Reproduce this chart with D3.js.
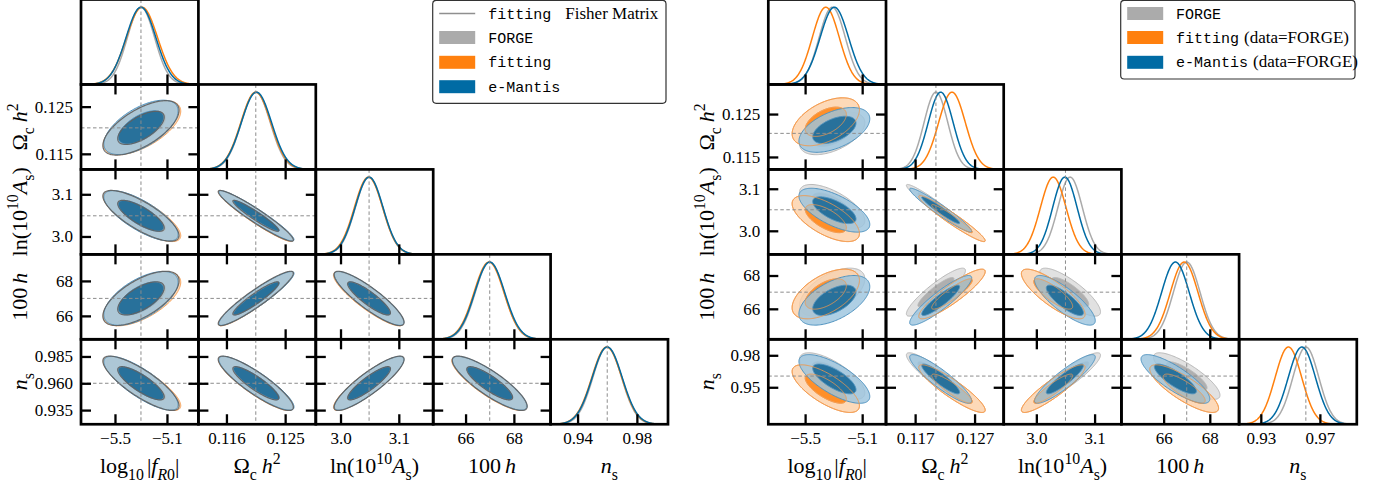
<!DOCTYPE html>
<html><head><meta charset="utf-8">
<script src="https://cdn.jsdelivr.net/npm/d3@7"></script>
<style>body{margin:0;background:#fff}svg{display:block}</style>
</head><body>
<svg id="c" width="1377" height="486"></svg>
<script>
// ================= DATA =================
// parameter order: log10|fR0|, Omega_c h^2, ln(10^10 As), 100h, n_s
// correlation pairs order: (1,0),(2,0),(2,1),(3,0),(3,1),(3,2),(4,0),(4,1),(4,2),(4,3)

// ---- left figure ----
const leftTruth = [-5.3, 0.1205, 3.049, 67.0, 0.960];
const leftDomainLo = [-5.7615, 0.1117, 2.9576, 64.66, 0.9218];
const leftDomainHi = [-4.858, 0.1297, 3.159, 69.52, 1.0010];
const leftXTickValues = [[-5.5, -5.1], [0.116, 0.125], [3.0, 3.1], [66, 68], [0.94, 0.98]];
const leftXTickLabels = [["−5.5", "−5.1"], ["0.116", "0.125"], ["3.0", "3.1"], ["66", "68"], ["0.94", "0.98"]];
const leftYTickValues = [[], [0.115, 0.125], [3.0, 3.1], [66, 68], [0.935, 0.960, 0.985]];
const leftYTickLabels = [[], ["0.115", "0.125"], ["3.0", "3.1"], ["66", "68"], ["0.935", "0.960", "0.985"]];

const leftForgeMean = [-5.30, 0.1205, 3.049, 67.0, 0.960];
const leftForgeSigma = [0.105, 0.00222, 0.0235, 0.60, 0.0097];
const leftForgeRho = [0.60, -0.75, -0.95, 0.60, 0.93, -0.88, -0.80, -0.88, 0.88, -0.85];

const leftFittingMean = [-5.292, 0.1205, 3.048, 66.97, 0.9597];
const leftFittingSigma = [0.120, 0.00230, 0.0242, 0.62, 0.0101];
const leftFittingRho = [0.62, -0.77, -0.95, 0.62, 0.93, -0.88, -0.82, -0.88, 0.88, -0.85];

const leftMantisMean = [-5.30, 0.1206, 3.049, 67.0, 0.960];
const leftMantisSigma = [0.115, 0.00232, 0.0240, 0.62, 0.0101];
const leftMantisRho = [0.60, -0.75, -0.95, 0.60, 0.93, -0.88, -0.80, -0.88, 0.88, -0.85];

const leftFisherMean = [-5.30, 0.1205, 3.049, 67.0, 0.960];
const leftFisherSigma = [0.118, 0.00232, 0.0242, 0.625, 0.0102];
const leftFisherRho = [0.65, -0.78, -0.95, 0.65, 0.93, -0.88, -0.82, -0.88, 0.88, -0.85];

// ---- right figure ----
const rightTruth = [null, 0.1205, 3.050, 67.0, 0.9605];
const rightDomainLo = [-5.758, 0.1121, 2.944, 64.17, 0.9153];
const rightDomainHi = [-4.933, 0.1319, 3.146, 69.27, 0.9950];
const rightXTickValues = [[-5.5, -5.1], [0.117, 0.127], [3.0, 3.1], [66, 68], [0.93, 0.97]];
const rightXTickLabels = [["−5.5", "−5.1"], ["0.117", "0.127"], ["3.0", "3.1"], ["66", "68"], ["0.93", "0.97"]];
const rightYTickValues = [[], [0.115, 0.125], [3.0, 3.1], [66, 68], [0.95, 0.98]];
const rightYTickLabels = [[], ["0.115", "0.125"], ["3.0", "3.1"], ["66", "68"], ["0.95", "0.98"]];

const rightForgeMean = [-5.31, 0.1205, 3.058, 67.0, 0.9605];
const rightForgeSigma = [0.092, 0.0020, 0.021, 0.58, 0.0088];
const rightForgeRho = [0.50, -0.65, -0.96, 0.55, 0.90, -0.82, -0.72, -0.90, 0.90, -0.82];

const rightFittingMean = [-5.355, 0.1232, 3.029, 66.89, 0.9487];
const rightFittingSigma = [0.095, 0.00225, 0.022, 0.60, 0.0090];
const rightFittingRho = [0.50, -0.65, -0.96, 0.55, 0.90, -0.82, -0.72, -0.90, 0.90, -0.82];

const rightMantisMean = [-5.295, 0.1213, 3.049, 66.51, 0.9578];
const rightMantisSigma = [0.100, 0.0021, 0.021, 0.60, 0.0092];
const rightMantisRho = [0.50, -0.65, -0.96, 0.55, 0.90, -0.82, -0.72, -0.90, 0.90, -0.82];

// axis label texts
const axisLabelSegments = [
  [{t:"log"},{t:"10",sub:1},{t:"|",dx:3},{t:"f",it:1},{t:"R",sub:1,it:1},{t:"0",sub:1},{t:"|"}],
  [{t:"Ω"},{t:"c",sub:1},{t:"h",it:1,dx:5},{t:"2",sup:1}],
  [{t:"ln(10"},{t:"10",sup:1},{t:"A",it:1},{t:"s",sub:1},{t:")"}],
  [{t:"100"},{t:"h",it:1,dx:4}],
  [{t:"n",it:1},{t:"s",sub:1}]
];
const leftLegendLabels = [["fitting", "Fisher Matrix"], ["FORGE"], ["fitting"], ["e-Mantis"]];
const rightLegendLabels = [["FORGE"], ["fitting", "(data=FORGE)"], ["e-Mantis", "(data=FORGE)"]];

// ================= STYLE =================
const SERIF = "'Liberation Serif','DejaVu Serif',serif";
const MONO = "'Liberation Mono','DejaVu Sans Mono',monospace";
const COL_GREY = "#ABABAB", COL_ORANGE = "#FF800E", COL_BLUE = "#006BA4";
const styleForge = {outer: "#dadada", outerOp: 0.8, inner: "#a6a6a6", innerOp: 0.85, edge: "#b8b8b8", curve: "#aaaaaa"};
const styleFitting = {outer: "#fdcfa6", outerOp: 0.8, inner: "#ff861a", innerOp: 0.9, edge: "#f7a25a", curve: COL_ORANGE};
const styleMantis = {outer: "#9cc5de", outerOp: 0.82, inner: "#1c6a98", innerOp: 0.92, edge: "#4f93c0", curve: COL_BLUE};
const LEVELS = [6.17, 2.30]; // delta chi^2 for 95% and 68%
const ROW_TOP = -0.5, ROW_H = 84.95;
const FRAME_W = 2.7, TICK_LEN = 10, TICK_W = 2.3;
const TRUTH_COL = "#8c8c8c";
const LABEL_SIZE = 22;

const svg = d3.select("#c");

function pairIndex(i, j) { return i * (i - 1) / 2 + j; }

function ellipsePts(mx, my, sx, sy, rho, k) {
  const r = Math.sqrt(k), c = Math.sqrt(1 - rho * rho);
  return d3.range(160).map(t => {
    const a = 2 * Math.PI * t / 160;
    return [mx + r * sx * Math.cos(a), my + r * sy * (rho * Math.cos(a) + c * Math.sin(a))];
  });
}

function rich(textSel, segs, size) {
  let cur = 0;
  segs.forEach(s => {
    const shift = s.sub ? 0.3 * size : s.sup ? -0.42 * size : 0;
    const ts = textSel.append("tspan").text(s.t)
      .attr("dy", (shift - cur) + "px")
      .attr("font-size", (s.sub || s.sup) ? 0.72 * size : size);
    if (s.it) ts.attr("font-style", "italic");
    if (s.dx) ts.attr("dx", s.dx);
    cur = shift;
  });
}

function styleAxis(g) {
  g.attr("font-family", SERIF).attr("font-size", 17);
  g.select(".domain").remove();
  g.selectAll(".tick line").attr("stroke", "#000").attr("stroke-width", TICK_W);
  g.selectAll(".tick text").attr("fill", "#000");
}

function drawCorner(cfg) {
  const n = 5;
  const xs = d3.range(n).map(k => d3.scaleLinear().domain([cfg.lo[k], cfg.hi[k]])
    .range([cfg.x0 + k * cfg.colW, cfg.x0 + (k + 1) * cfg.colW]));
  const ys = d3.range(n).map(k => d3.scaleLinear().domain([cfg.lo[k], cfg.hi[k]])
    .range([ROW_TOP + (k + 1) * ROW_H, ROW_TOP + k * ROW_H]));

  for (let i = 0; i < n; i++) for (let j = 0; j <= i; j++) {
    const x = xs[j];
    const [px0, px1] = x.range();
    const py0 = ROW_TOP + i * ROW_H, py1 = py0 + ROW_H;
    const id = cfg.id + "_" + i + "_" + j;
    svg.append("clipPath").attr("id", id).append("rect")
      .attr("x", px0).attr("y", py0).attr("width", px1 - px0).attr("height", ROW_H);
    const g = svg.append("g");
    const content = g.append("g").attr("clip-path", `url(#${id})`);
    const xVals = cfg.xTicks[j], xLabs = cfg.xTickLabels[j];
    const bottomRow = (i === n - 1);

    if (i === j) {
      const yd = d3.scaleLinear().domain([0, 1.1]).range([py1, py0]);
      const samp = d3.range(401).map(t => cfg.lo[j] + (cfg.hi[j] - cfg.lo[j]) * t / 400);
      cfg.series.forEach(s => {
        const line = d3.line().x(v => x(v))
          .y(v => yd(Math.exp(-0.5 * Math.pow((v - s.mean[j]) / s.sigma[j], 2))));
        content.append("path").attr("d", line(samp)).attr("fill", "none")
          .attr("stroke", s.style.curve).attr("stroke-width", 1.5);
      });
      if (cfg.truth[j] != null) {
        content.append("line").attr("x1", x(cfg.truth[j])).attr("x2", x(cfg.truth[j]))
          .attr("y1", py0).attr("y2", py1).attr("stroke", TRUTH_COL).attr("stroke-width", 1)
          .attr("stroke-dasharray", "3.5,2.5");
      }
      g.append("g").attr("transform", `translate(0,${py1})`)
        .call(d3.axisBottom(x).tickValues(xVals).tickSize(-TICK_LEN).tickPadding(8)
          .tickFormat((d, k) => bottomRow ? xLabs[k] : ""))
        .call(styleAxis);
    } else {
      const y = ys[i];
      const pi = pairIndex(i, j);
      cfg.series.forEach(s => {
        LEVELS.forEach((lev, li) => {
          const pts = ellipsePts(s.mean[j], s.mean[i], s.sigma[j], s.sigma[i], s.rho[pi], lev);
          const path = d3.line().x(p => x(p[0])).y(p => y(p[1])).curve(d3.curveLinearClosed);
          content.append("path").attr("d", path(pts))
            .attr("fill", li === 0 ? s.style.outer : s.style.inner)
            .attr("fill-opacity", li === 0 ? s.style.outerOp : s.style.innerOp)
            .attr("stroke", s.style.edge).attr("stroke-width", 1);
        });
      });
      cfg.outlines.forEach(o => {
        LEVELS.forEach(lev => {
          const pts = ellipsePts(o.mean[j], o.mean[i], o.sigma[j], o.sigma[i], o.rho[pi], lev);
          const path = d3.line().x(p => x(p[0])).y(p => y(p[1])).curve(d3.curveLinearClosed);
          content.append("path").attr("d", path(pts)).attr("fill", "none")
            .attr("stroke", o.color).attr("stroke-opacity", o.op).attr("stroke-width", o.width);
        });
      });
      if (cfg.truth[j] != null) {
        content.append("line").attr("x1", x(cfg.truth[j])).attr("x2", x(cfg.truth[j]))
          .attr("y1", py0).attr("y2", py1).attr("stroke", TRUTH_COL).attr("stroke-width", 1)
          .attr("stroke-dasharray", "3.5,2.5");
      }
      if (cfg.truth[i] != null) {
        content.append("line").attr("y1", y(cfg.truth[i])).attr("y2", y(cfg.truth[i]))
          .attr("x1", px0).attr("x2", px1).attr("stroke", TRUTH_COL).attr("stroke-width", 1)
          .attr("stroke-dasharray", "3.5,2.5");
      }
      const yVals = cfg.yTicks[i], yLabs = cfg.yTickLabels[i];
      g.append("g").attr("transform", `translate(0,${py1})`)
        .call(d3.axisBottom(x).tickValues(xVals).tickSize(-TICK_LEN).tickPadding(8)
          .tickFormat((d, k) => bottomRow ? xLabs[k] : ""))
        .call(styleAxis);
      g.append("g").attr("transform", `translate(0,${py0})`)
        .call(d3.axisTop(x).tickValues(xVals).tickSize(-TICK_LEN).tickFormat(""))
        .call(styleAxis);
      g.append("g").attr("transform", `translate(${px0},0)`)
        .call(d3.axisLeft(y).tickValues(yVals).tickSize(-TICK_LEN).tickPadding(8)
          .tickFormat((d, k) => j === 0 ? yLabs[k] : ""))
        .call(styleAxis);
      g.append("g").attr("transform", `translate(${px1},0)`)
        .call(d3.axisRight(y).tickValues(yVals).tickSize(-TICK_LEN).tickFormat(""))
        .call(styleAxis);
    }
    g.append("rect").attr("x", px0).attr("y", py0).attr("width", px1 - px0).attr("height", ROW_H)
      .attr("fill", "none").attr("stroke", "#000").attr("stroke-width", FRAME_W);
  }

  // x-axis labels
  for (let k = 0; k < n; k++) {
    const [a, b] = xs[k].range();
    const t = svg.append("text").attr("x", (a + b) / 2).attr("y", 473)
      .attr("text-anchor", "middle").attr("font-family", SERIF).attr("fill", "#000");
    rich(t, axisLabelSegments[k], LABEL_SIZE);
  }
  // y-axis labels
  for (let k = 1; k < n; k++) {
    const [b, a] = ys[k].range();
    const t = svg.append("text")
      .attr("transform", `translate(${cfg.x0 - 54},${(a + b) / 2}) rotate(-90)`)
      .attr("text-anchor", "middle").attr("font-family", SERIF).attr("fill", "#000");
    rich(t, axisLabelSegments[k], LABEL_SIZE);
  }
}

drawCorner({
  id: "L", x0: 81, colW: 117.4,
  lo: leftDomainLo, hi: leftDomainHi, truth: leftTruth,
  xTicks: leftXTickValues, xTickLabels: leftXTickLabels,
  yTicks: leftYTickValues, yTickLabels: leftYTickLabels,
  series: [
    {mean: leftForgeMean, sigma: leftForgeSigma, rho: leftForgeRho, style: styleForge},
    {mean: leftFittingMean, sigma: leftFittingSigma, rho: leftFittingRho, style: styleFitting},
    {mean: leftMantisMean, sigma: leftMantisSigma, rho: leftMantisRho, style: styleMantis}
  ],
  outlines: [
    {mean: leftFisherMean, sigma: leftFisherSigma, rho: leftFisherRho, color: "#5f5f5f", op: 0.9, width: 1.2}
  ]
});

drawCorner({
  id: "R", x0: 768.3, colW: 117.7,
  lo: rightDomainLo, hi: rightDomainHi, truth: rightTruth,
  xTicks: rightXTickValues, xTickLabels: rightXTickLabels,
  yTicks: rightYTickValues, yTickLabels: rightYTickLabels,
  series: [
    {mean: rightForgeMean, sigma: rightForgeSigma, rho: rightForgeRho, style: styleForge},
    {mean: rightFittingMean, sigma: rightFittingSigma, rho: rightFittingRho, style: styleFitting},
    {mean: rightMantisMean, sigma: rightMantisSigma, rho: rightMantisRho, style: styleMantis}
  ],
  outlines: [
    {mean: rightFittingMean, sigma: rightFittingSigma, rho: rightFittingRho, color: "#f29a4c", op: 0.8, width: 1}
  ]
});

// ================= LEGENDS =================
function legend(box, rows, labels, textX) {
  svg.append("rect").attr("x", box.x).attr("y", box.y).attr("width", box.w).attr("height", box.h)
    .attr("rx", 3.5).attr("fill", "#fff").attr("fill-opacity", 0.85)
    .attr("stroke", "#333").attr("stroke-width", 1.2);
  rows.forEach((r, k) => {
    if (r.type === "line") {
      svg.append("line").attr("x1", box.x + 6.5).attr("x2", box.x + 42.5).attr("y1", r.cy).attr("y2", r.cy)
        .attr("stroke", r.color).attr("stroke-width", 1.5);
    } else {
      svg.append("rect").attr("x", box.x + 6.5).attr("y", r.cy - 6.5).attr("width", 36).attr("height", 13)
        .attr("fill", r.color);
    }
    const t = svg.append("text").attr("x", textX).attr("y", r.cy + 5).attr("fill", "#000");
    const lab = labels[k];
    t.append("tspan").attr("font-family", MONO).attr("font-size", 15).text(lab[0]);
    if (lab[1]) t.append("tspan").attr("font-family", SERIF).attr("font-size", 17)
      .attr("dx", r.gap).text(lab[1]);
  });
}

legend({x: 432.7, y: 0.3, w: 233.3, h: 103},
  [{type: "line", color: "#8f8f8f", cy: 13.5, gap: 14},
   {type: "patch", color: COL_GREY, cy: 37.5},
   {type: "patch", color: COL_ORANGE, cy: 62.3},
   {type: "patch", color: COL_BLUE, cy: 86.7}],
  leftLegendLabels, 488.3);

legend({x: 1120.7, y: 0.3, w: 234.3, h: 78.7},
  [{type: "patch", color: COL_GREY, cy: 13.5},
   {type: "patch", color: COL_ORANGE, cy: 37.5, gap: 5},
   {type: "patch", color: COL_BLUE, cy: 62.3, gap: 5}],
  rightLegendLabels, 1176);
</script>
</body></html>
